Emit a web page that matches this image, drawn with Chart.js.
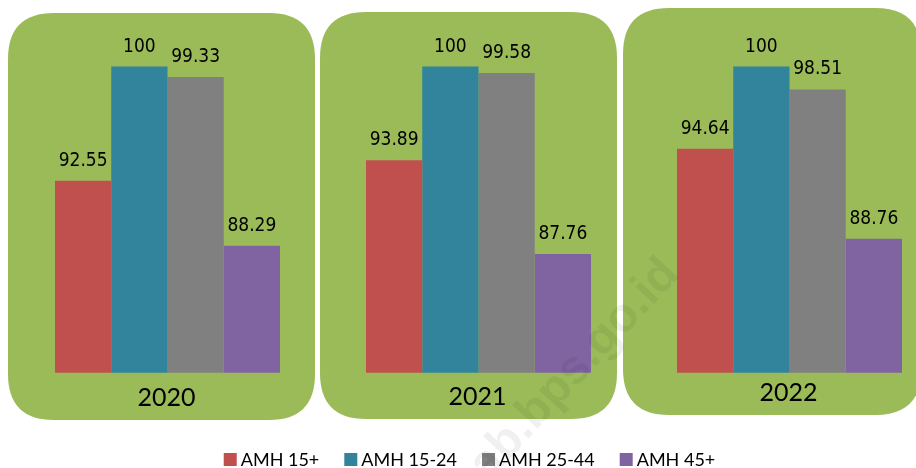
<!DOCTYPE html>
<html><head><meta charset="utf-8">
<script src="https://cdn.jsdelivr.net/npm/chart.js@4/dist/chart.umd.min.js"></script>
<style>html,body{margin:0;padding:0;background:#fff;overflow:hidden}#wrap{width:916px;height:468px;position:relative}</style>
</head><body><div id="wrap"><canvas id="c" width="916" height="468"></canvas></div>
<script>
const categories = ['2020', '2021', '2022'];
const seriesNames = ['AMH 15+', 'AMH 15-24', 'AMH 25-44', 'AMH 45+'];
const amh15plus = [92.55, 93.89, 94.64];
const amh15to24 = [100, 100, 100];
const amh25to44 = [99.33, 99.58, 98.51];
const amh45plus = [88.29, 87.76, 88.76];
const valueLabels = [
  ['92.55', '93.89', '94.64'],
  ['100', '100', '100'],
  ['99.33', '99.58', '98.51'],
  ['88.29', '87.76', '88.76']
];

const seriesColors = ['#C0504D', '#31849B', '#808080', '#8064A2'];
const panelColor = '#9BBB59';
// decorative rounded panels (offsets from category centre: left, right; top, bottom)
const panelBoxes = [[-159.5, 147.5, 13, 420], [-158.5, 138.5, 12, 419], [-166.5, 132, 8, 415]];

const seriesValues = [amh15plus, amh15to24, amh25to44, amh45plus];
const datasets = seriesNames.map((name, k) => ({
  label: name,
  data: seriesValues[k].map((v, i) => ({ x: i, y: v })),
  backgroundColor: seriesColors[k],
  borderWidth: 0,
  categoryPercentage: 0.7235,
  barPercentage: 1
}));

function roundRect(ctx, x0, y0, x1, y1, r) {
  ctx.beginPath();
  ctx.moveTo(x0 + r, y0);
  ctx.lineTo(x1 - r, y0);
  ctx.quadraticCurveTo(x1, y0, x1, y0 + r);
  ctx.lineTo(x1, y1 - r);
  ctx.quadraticCurveTo(x1, y1, x1 - r, y1);
  ctx.lineTo(x0 + r, y1);
  ctx.quadraticCurveTo(x0, y1, x0, y1 - r);
  ctx.lineTo(x0, y0 + r);
  ctx.quadraticCurveTo(x0, y0, x0 + r, y0);
  ctx.closePath();
}

const decor = {
  id: 'decor',
  beforeDatasetsDraw(chart) {
    const ctx = chart.ctx, xs = chart.scales.x;
    ctx.save();
    categories.forEach((cat, i) => {
      const cx = xs.getPixelForValue(i);
      const b = panelBoxes[i];
      ctx.fillStyle = panelColor;
      roundRect(ctx, cx + b[0], b[2], cx + b[1], b[3], 46);
      ctx.fill();
      ctx.fillStyle = '#000';
      ctx.font = '25px Lato';
      ctx.textAlign = 'center';
      ctx.textBaseline = 'alphabetic';
      ctx.fillText(cat, cx - 1, b[3] - 14);
    });
    ctx.restore();
  },
  afterDatasetsDraw(chart) {
    const ctx = chart.ctx;
    ctx.save();
    ctx.fillStyle = '#000';
    ctx.font = '19px "DejaVu Sans Condensed", "Liberation Sans"';
    ctx.textAlign = 'center';
    ctx.textBaseline = 'alphabetic';
    chart.data.datasets.forEach((ds, k) => {
      chart.getDatasetMeta(k).data.forEach((bar, i) => {
        ctx.fillText(valueLabels[k][i], bar.x, bar.y - 15);
      });
    });
    ctx.restore();
  },
  afterDraw(chart) {
    const ctx = chart.ctx;
    ctx.save();
    ctx.font = '18px Lato';
    ctx.textBaseline = 'middle';
    const box = 13, gap = 4, spacing = 25;
    const widths = seriesNames.map(n => box + gap + ctx.measureText(n).width);
    const total = widths.reduce((a, b) => a + b, 0) + spacing * (seriesNames.length - 1);
    let x = 469.5 - total / 2;
    const cy = 459.5;
    seriesNames.forEach((n, k) => {
      ctx.fillStyle = seriesColors[k];
      ctx.fillRect(x, cy - box / 2, box, box);
      ctx.fillStyle = '#000';
      ctx.fillText(n, x + box + gap, cy + 1);
      x += widths[k] + spacing;
    });
    // faint watermark
    ctx.translate(488, 482);
    ctx.rotate(-47 * Math.PI / 180);
    ctx.font = 'bold 48px "Liberation Sans"';
    ctx.fillStyle = 'rgba(0,0,0,0.06)';
    ctx.textAlign = 'left';
    ctx.textBaseline = 'alphabetic';
    ctx.fillText('ab.bps.go.id', 0, 0);
    ctx.restore();
  }
};

new Chart(document.getElementById('c'), {
  type: 'bar',
  data: { datasets },
  options: {
    responsive: false,
    animation: false,
    devicePixelRatio: 1,
    layout: { padding: { left: 0, right: 0, top: 10, bottom: 95.3 } },
    plugins: { legend: { display: false }, tooltip: { enabled: false } },
    scales: {
      x: {
        type: 'linear',
        display: false,
        offset: false,
        min: -167.5 / 311,
        max: (916 - 167.5) / 311,
        grid: { display: false },
        afterBuildTicks: s => { s.ticks = categories.map((_, i) => ({ value: i })); }
      },
      y: {
        display: false,
        min: 80,
        max: 103.7,
        grid: { display: false }
      }
    }
  },
  plugins: [decor]
});
</script></body></html>
